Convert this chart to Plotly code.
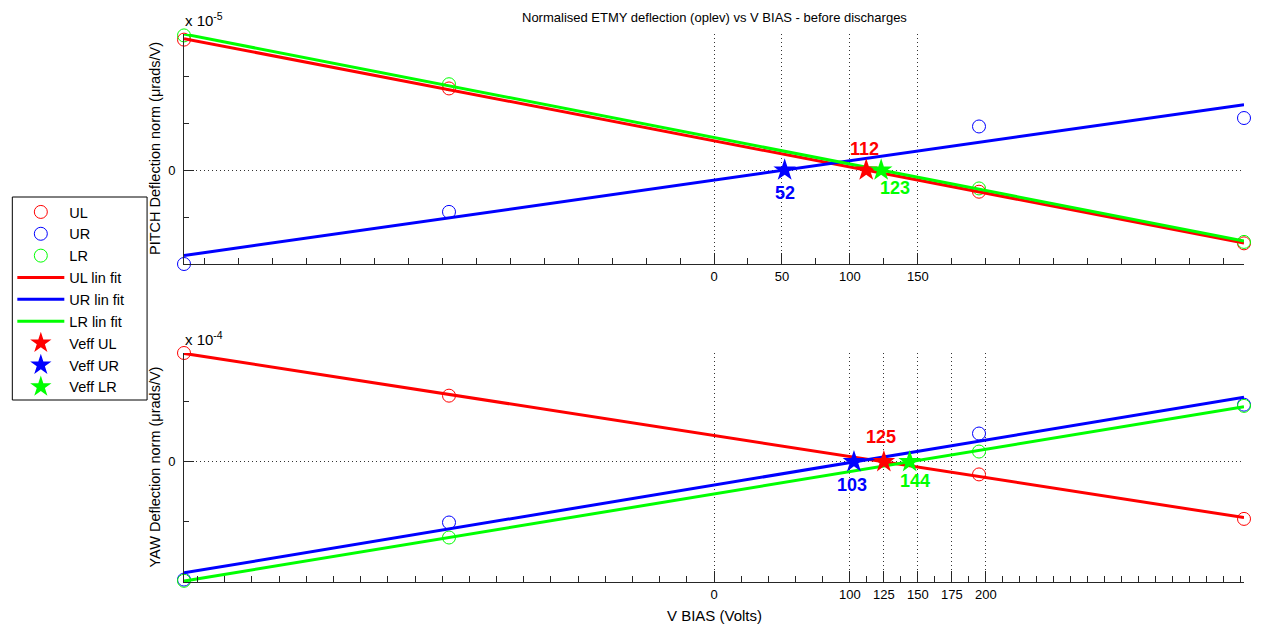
import numpy as np
import plotly.graph_objects as go

# ---------------- data ----------------
v_bias = [-390, -195, 195, 390]

# PITCH deflection norm (x 1e-5)
pitch_ul = [2.78, 1.74, -0.46, -1.56]
pitch_ur = [-2.00, -0.89, 0.93, 1.11]
pitch_lr = [2.87, 1.83, -0.39, -1.53]
pitch_veff = [112, 52, 123]          # UL, UR, LR

# YAW deflection norm (x 1e-4)
yaw_ul = [1.81, 1.10, -0.21, -0.95]
yaw_ur = [-1.96, -1.01, 0.47, 0.95]
yaw_lr = [-1.98, -1.26, 0.17, 0.93]
yaw_veff = [125, 103, 144]           # UL, UR, LR

pitch_xticks = [0, 50, 100, 150]
yaw_xticks = [0, 100, 125, 150, 175, 200]
names = ["UL", "UR", "LR"]
colors = ["#ff0000", "#0000ff", "#00ff00"]

FONT = "Liberation Sans, Arial, Helvetica, sans-serif"
AX = "#262626"

fig = go.Figure()

def add_panel(series, veff, xa, ya, show):
    x = np.array(v_bias, dtype=float)
    # data circles
    for n, c, s in zip(names, colors, series):
        fig.add_trace(go.Scatter(x=v_bias, y=s, mode="markers", name=n,
                                 legendgroup=n, showlegend=show, xaxis=xa, yaxis=ya,
                                 cliponaxis=False,
                                 marker=dict(symbol="circle-open", size=13, color=c,
                                             line=dict(width=1, color=c))))
    # linear fits
    for n, c, s in zip(names, colors, series):
        p = np.polyfit(x, np.array(s, dtype=float), 1)
        fig.add_trace(go.Scatter(x=v_bias, y=np.polyval(p, x), mode="lines",
                                 name=n + " lin fit", legendgroup=n + "f",
                                 showlegend=show, xaxis=xa, yaxis=ya, cliponaxis=False,
                                 line=dict(color=c, width=3)))
    # Veff stars
    for n, c, v in zip(names, colors, veff):
        fig.add_trace(go.Scatter(x=[v], y=[0], mode="markers", name="Veff " + n,
                                 legendgroup=n + "v", showlegend=show,
                                 xaxis=xa, yaxis=ya, cliponaxis=False,
                                 marker=dict(symbol="star", size=17, color=c,
                                             line=dict(width=0))))

add_panel([pitch_ul, pitch_ur, pitch_lr], pitch_veff, "x", "y", True)
add_panel([yaw_ul, yaw_ur, yaw_lr], yaw_veff, "x2", "y2", False)

top_dom = [0.5803, 1.0]
bot_dom = [0.0, 0.4179]

pitch_minor = [v for v in np.arange(-375, 390, 25) if v not in pitch_xticks]
yaw_minor = ([float(v) for v in np.arange(-380, 100, 20) if v != 0]
             + [112.5, 137.5, 162.5, 187.5]
             + [float(v) for v in np.arange(212.5, 390, 12.5)])

def xaxis_cfg(ticks, minor, anchor):
    return dict(range=[-390, 390], domain=[0, 1], anchor=anchor,
                tickmode="array", tickvals=ticks, ticktext=[str(t) for t in ticks],
                ticks="inside", ticklen=11, tickwidth=1, tickcolor=AX,
                showline=True, linecolor=AX, linewidth=1, mirror=False,
                showgrid=True, gridcolor="#333333", gridwidth=1, griddash="1px,3px",
                zeroline=False, tickfont=dict(family=FONT, size=13, color="#000"),
                minor=dict(tickmode="array", tickvals=minor, ticks="inside",
                           ticklen=6, tickwidth=1, tickcolor=AX, showgrid=False))

def yaxis_cfg(rng, minor, dom, anchor):
    return dict(range=rng, domain=dom, anchor=anchor,
                tickmode="array", tickvals=[0], ticktext=["0"],
                ticks="inside", ticklen=10, tickwidth=1, tickcolor=AX,
                showline=True, linecolor=AX, linewidth=1, mirror=False,
                showgrid=True, gridcolor="#333333", gridwidth=1, griddash="1px,3px",
                zeroline=False, tickfont=dict(family=FONT, size=13, color="#000"),
                ticklabelstandoff=5,
                minor=dict(tickmode="array", tickvals=minor, ticks="inside",
                           ticklen=5, tickwidth=1, tickcolor=AX, showgrid=False))

W, H = 1262, 630
ML, MR, MT, MB = 182, 18, 34, 48
PW, PH = W - ML - MR, H - MT - MB

def px_x(p):
    return (p - ML) / PW

def px_y(p):
    return (H - MB - p) / PH

fig.update_layout(
    width=W, height=H,
    margin=dict(l=ML, r=MR, t=MT, b=MB),
    paper_bgcolor="white", plot_bgcolor="white",
    font=dict(family=FONT, size=13, color="#000"),
    xaxis=xaxis_cfg(pitch_xticks, pitch_minor, "y"),
    yaxis=yaxis_cfg([-2.0, 2.9], [-1, 1, 2], top_dom, "x"),
    xaxis2=xaxis_cfg(yaw_xticks, yaw_minor, "y2"),
    yaxis2=yaxis_cfg([-2.0, 1.81], [-1, 1], bot_dom, "x2"),
    legend=dict(x=px_x(10), xanchor="left", y=px_y(196), yanchor="top",
                borderwidth=0, bgcolor="rgba(0,0,0,0)",
                font=dict(family=FONT, size=14.5, color="#000"),
                itemwidth=47, traceorder="normal"),
    showlegend=True,
    shapes=[dict(type="rect", xref="paper", yref="paper",
                 x0=px_x(10), x1=px_x(145), y0=px_y(400), y1=px_y(197),
                 line=dict(color="#000", width=1), fillcolor="white", layer="below")],
)

ann = []
# Veff labels
pitch_offsets = [(-2, 21), (0, -23), (14, -18)]
yaw_offsets = [(-3, 25), (-2, -23), (5, -19)]
for vals, offs, xr, yr in [(pitch_veff, pitch_offsets, "x", "y"),
                           (yaw_veff, yaw_offsets, "x2", "y2")]:
    for v, c, (dx, dy) in zip(vals, colors, offs):
        ann.append(dict(x=v, y=0, xref=xr, yref=yr, text=str(v), showarrow=False,
                        xshift=dx, yshift=dy, xanchor="center", yanchor="middle",
                        font=dict(family=FONT, size=18, color=c, weight="bold")))

# exponent labels
for ypos, txt in [(top_dom[1], "x 10<sup>-5</sup>"), (bot_dom[1], "x 10<sup>-4</sup>")]:
    ann.append(dict(x=0, y=ypos, xref="paper", yref="paper", text=txt, showarrow=False,
                    xanchor="left", yanchor="bottom", xshift=-1, yshift=3,
                    font=dict(family=FONT, size=15, color="#000")))

# y titles
for ypos, txt in [((top_dom[0] + top_dom[1]) / 2, "PITCH Deflection norm (μrads/V)"),
                  ((bot_dom[0] + bot_dom[1]) / 2, "YAW Deflection norm (μrads/V)")]:
    ann.append(dict(x=0, y=ypos, xref="paper", yref="paper", text=txt, showarrow=False,
                    textangle=-90, xanchor="center", yanchor="middle", xshift=-29,
                    font=dict(family=FONT, size=14.5, color="#000")))

# x title
ann.append(dict(x=0.5, y=0, xref="paper", yref="paper", text="V BIAS (Volts)",
                showarrow=False, xanchor="center", yanchor="middle", yshift=-33,
                font=dict(family=FONT, size=15, color="#000")))
# title
ann.append(dict(x=0.5, y=1, xref="paper", yref="paper",
                text="Normalised ETMY deflection (oplev) vs V BIAS - before discharges",
                showarrow=False, xanchor="center", yanchor="middle", yshift=17,
                font=dict(family=FONT, size=13, color="#000")))

fig.update_layout(annotations=ann)
fig.write_html("out.html", config={"displayModeBar": False},
               post_script="document.body.style.margin='0';")
